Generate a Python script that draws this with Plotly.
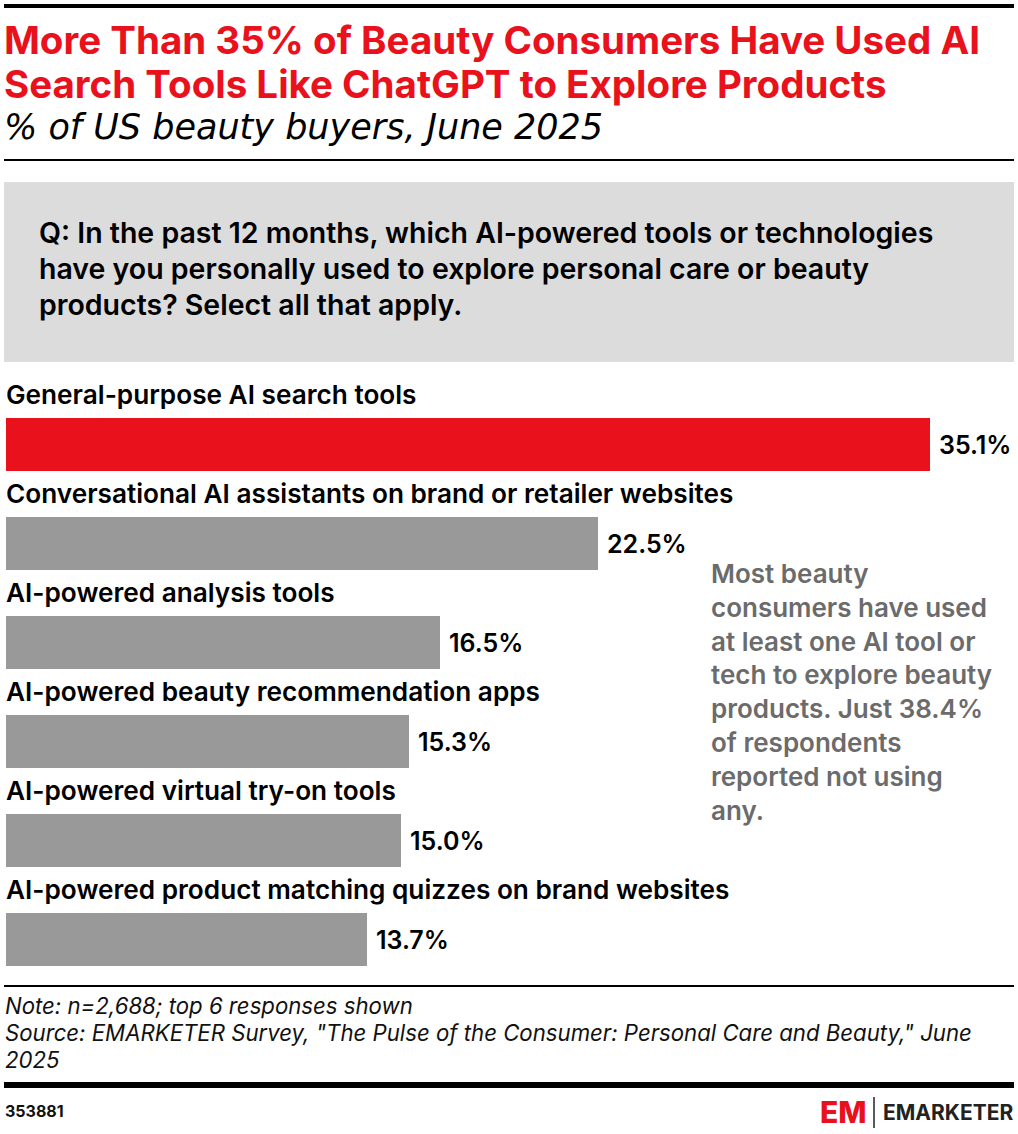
import plotly.graph_objects as go

W, H = 1018, 1134

# data
categories = [
    'General-purpose AI search tools',
    'Conversational AI assistants on brand or retailer websites',
    'AI-powered analysis tools',
    'AI-powered beauty recommendation apps',
    'AI-powered virtual try-on tools',
    'AI-powered product matching quizzes on brand websites',
]
values = [35.1, 22.5, 16.5, 15.3, 15.0, 13.7]
bar_colors = ['#e8111c', '#999999', '#999999', '#999999', '#999999', '#999999']

title_lines = ['More Than 35% of Beauty Consumers Have Used AI',
               'Search Tools Like ChatGPT to Explore Products']
subtitle = '% of US beauty buyers, June 2025'
question_lines = ['Q: In the past 12 months, which AI-powered tools or technologies',
                  'have you personally used to explore personal care or beauty',
                  'products? Select all that apply.']
callout = ('Most beauty<br>consumers have used<br>at least one AI tool or<br>'
           'tech to explore beauty<br>products. Just 38.4%<br>of respondents<br>'
           'reported not using<br>any.')
note_lines = ['Note: n=2,688; top 6 responses shown',
              'Source: EMARKETER Survey, "The Pulse of the Consumer: Personal Care and Beauty," June',
              '2025']
chart_id = '353881'

FONT = 'Inter'
RED = '#e8111c'


def px(x):
    return x / W


def py(y):
    return 1 - y / H


fig = go.Figure()

fig.add_trace(go.Bar(
    x=values,
    y=categories,
    orientation='h',
    marker_color=bar_colors,
    marker_line_width=0,
    width=0.535,
    hoverinfo='skip',
))

annotations = []

# category labels above each bar, value labels to the right
for cat, val in zip(categories, values):
    annotations.append(dict(x=0, y=cat, xref='x', yref='y', text=cat, showarrow=False,
                            xanchor='left', yanchor='middle', xshift=-2, yshift=50,
                            font=dict(family=FONT, size=26.2, color='#000', weight=600)))
    annotations.append(dict(x=val, y=cat, xref='x', yref='y', text='%.1f%%' % val,
                            showarrow=False, xanchor='left', yanchor='middle', xshift=7,
                            font=dict(family=FONT, size=25, color='#000', weight=600)))

# title
for i, line in enumerate(title_lines):
    annotations.append(dict(x=px(2), y=py(40 + 44 * i), xref='paper', yref='paper', text=line,
                            showarrow=False, xanchor='left', yanchor='middle',
                            font=dict(family=FONT, size=38.5, color=RED, weight=700)))
annotations.append(dict(x=px(2), y=py(127), xref='paper', yref='paper', text='<i>' + subtitle + '</i>',
                        showarrow=False, xanchor='left', yanchor='middle',
                        font=dict(family='DejaVu Sans', size=35, color='#000')))

# question box text
for i, line in enumerate(question_lines):
    annotations.append(dict(x=px(37), y=py(233 + 36 * i), xref='paper', yref='paper', text=line,
                            showarrow=False, xanchor='left', yanchor='middle',
                            font=dict(family=FONT, size=28.5, color='#000', weight=600)))

# callout
annotations.append(dict(x=px(709), y=py(556), xref='paper', yref='paper', text=callout,
                        showarrow=False, xanchor='left', yanchor='top', align='left',
                        font=dict(family=FONT, size=26, color='#6b6b6b', weight=600)))

# notes
for i, line in enumerate(note_lines):
    annotations.append(dict(x=px(3), y=py(1005 + 27 * i), xref='paper', yref='paper',
                            text='<i>' + line + '</i>', showarrow=False,
                            xanchor='left', yanchor='middle',
                            font=dict(family=FONT, size=22.2, color='#111')))

annotations.append(dict(x=px(3), y=py(1111), xref='paper', yref='paper', text=chart_id,
                        showarrow=False, xanchor='left', yanchor='middle',
                        font=dict(family=FONT, size=16, color='#111', weight=700)))

# logo
annotations.append(dict(x=px(818), y=py(1112), xref='paper', yref='paper', text='EM',
                        showarrow=False, xanchor='left', yanchor='middle',
                        font=dict(family=FONT, size=30, color=RED, weight=800)))
annotations.append(dict(x=px(1015), y=py(1112), xref='paper', yref='paper', text='EMARKETER',
                        showarrow=False, xanchor='right', yanchor='middle',
                        font=dict(family=FONT, size=21, color='#222', weight=700)))

shapes = [
    dict(type='rect', xref='paper', yref='paper', x0=px(4), x1=px(1014), y0=py(4), y1=py(8),
         fillcolor='#000', line_width=0),
    dict(type='rect', xref='paper', yref='paper', x0=px(4), x1=px(1014), y0=py(159), y1=py(161),
         fillcolor='#000', line_width=0),
    dict(type='rect', xref='paper', yref='paper', x0=px(4), x1=px(1014), y0=py(182), y1=py(362),
         fillcolor='#dcdcdc', line_width=0, layer='below'),
    dict(type='rect', xref='paper', yref='paper', x0=px(4), x1=px(1014), y0=py(985), y1=py(987),
         fillcolor='#000', line_width=0),
    dict(type='rect', xref='paper', yref='paper', x0=px(4), x1=px(1014), y0=py(1082), y1=py(1088),
         fillcolor='#000', line_width=0),
    dict(type='line', xref='paper', yref='paper', x0=px(874), x1=px(874), y0=py(1097), y1=py(1128),
         line=dict(color='#222', width=1.5)),
]

fig.update_layout(
    width=W, height=H,
    margin=dict(l=0, r=0, t=0, b=0),
    paper_bgcolor='white', plot_bgcolor='white',
    showlegend=False,
    bargap=0,
    xaxis=dict(domain=[px(6), 1], range=[0, 1012 / 26.32], visible=False, fixedrange=True),
    yaxis=dict(domain=[py(989), py(395)], range=[5.5, -0.5], visible=False, fixedrange=True),
    annotations=annotations,
    shapes=shapes,
)

# drop the default page margin so the figure sits at the window's corner
fig.write_html('out.html', config={'displayModeBar': False},
               post_script="document.body.style.margin='0';")
